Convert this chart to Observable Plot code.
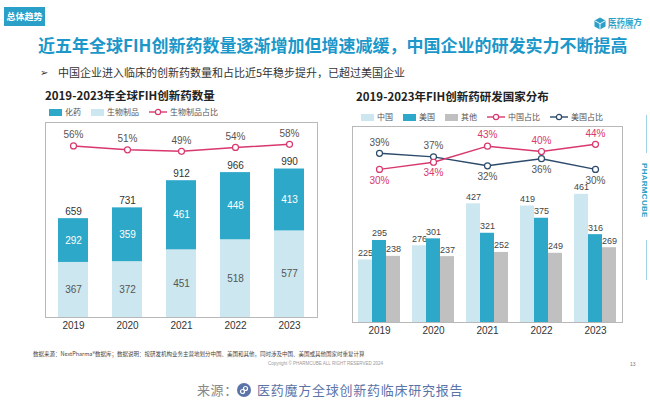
<!DOCTYPE html>
<html><head><meta charset="utf-8">
<script src="https://cdn.jsdelivr.net/npm/d3@7"></script>
<script src="https://cdn.jsdelivr.net/npm/@observablehq/plot@0.6"></script>
<style>
body{margin:0;background:#fff;}
#page{position:relative;width:650px;height:406px;overflow:hidden;background:#fff;font-family:"Liberation Sans","Noto Sans CJK SC",sans-serif;}
.abs{position:absolute;white-space:nowrap;line-height:1;}
.cjk{font-family:"Noto Sans CJK SC","Liberation Sans",sans-serif;}
.legend{position:absolute;display:flex;align-items:center;font-size:8px;color:#555;white-space:nowrap;line-height:1;font-family:"Noto Sans CJK SC",sans-serif;z-index:3;}
.legend .item{display:flex;align-items:center;margin-right:10px;}
.legend svg{margin-right:3px;display:block;}
.chart{position:absolute;}
</style></head>
<body><div id="page">
  <div class="abs cjk" style="left:4px;top:7px;width:41px;height:19px;background:#2a9fc7;color:#fff;font-size:9px;font-weight:700;display:flex;align-items:center;justify-content:center;">总体趋势</div>
  <svg class="abs" style="left:594px;top:17px" width="12" height="13" viewBox="0 0 13 14">
    <path d="M6.5 0.5 L12.5 3.8 L12.5 10.2 L6.5 13.5 L0.5 10.2 L0.5 3.8 Z" fill="#2a9fc7"/>
    <path d="M0.8 4 L6.5 7.2 L12.2 4 M6.5 7.2 L6.5 13.2" stroke="#fff" stroke-width="1" fill="none"/>
  </svg>
  <div class="abs cjk" style="left:608px;top:17px;font-size:8.5px;font-weight:700;color:#2a9fc7;">医药魔方</div>
  <div class="abs" style="left:608px;top:27px;font-size:3px;letter-spacing:1px;color:#2a9fc7;font-weight:700;">PHARMCUBE</div>
  <div class="abs cjk" style="left:38px;top:36px;font-size:17px;font-weight:700;color:#1b97c9;">近五年全球FIH创新药数量逐渐增加但增速减缓，中国企业的研发实力不断提高</div>
  <div class="abs" style="left:40px;top:68px;font-size:10px;color:#333;">➢</div>
  <div class="abs cjk" style="left:58px;top:67px;font-size:11px;color:#333;">中国企业进入临床的创新药数量和占比近5年稳步提升，已超过美国企业</div>
  <div class="abs cjk" style="left:45px;top:90px;font-size:11.5px;font-weight:700;color:#222;">2019-2023年全球FIH创新药数量</div>
  <div class="abs cjk" style="left:356px;top:91px;font-size:11.5px;font-weight:700;color:#222;">2019-2023年FIH创新药研发国家分布</div>
  <div id="legL" class="legend" style="left:49px;top:108px;"></div>
  <div id="legR" class="legend" style="left:361px;top:113px;"></div>
  <div id="chartL" class="chart" style="left:20px;top:110px;"></div>
  <div id="chartR" class="chart" style="left:330px;top:110px;"></div>
  <div class="abs" style="left:646px;top:115px;width:1px;height:38px;background:#9fd3e6;"></div>
  <div class="abs" style="left:640px;top:163px;font-size:8px;font-weight:700;color:#2a9fc7;writing-mode:vertical-rl;letter-spacing:0.3px;">PHARMCUBE</div>
  <div class="abs" style="left:646px;top:240px;width:1px;height:40px;background:#9fd3e6;"></div>
  <div class="abs cjk" style="left:33px;top:352px;font-size:5.5px;color:#444;">数据来源：NextPharma®数据库；数据说明：按研发机构业务主营地划分中国、美国和其他，同时涉及中国、美国或其他国家时重复计算</div>
  <div class="abs" style="left:268px;top:362px;font-size:4.5px;color:#999;">Copyright © PHARMCUBE ALL RIGHT RESERVED 2024</div>
  <div class="abs" style="left:630px;top:362px;font-size:5px;color:#777;">13</div>
  <div class="abs cjk" style="left:197px;top:383px;font-size:13px;color:#888;letter-spacing:0.6px;">来源：</div>
  <svg class="abs" style="left:237px;top:383px" width="14" height="14" viewBox="0 0 14 14">
    <circle cx="7" cy="7" r="7" fill="#5b74a8"/>
    <circle cx="5.5" cy="8.5" r="2" fill="none" stroke="#fff" stroke-width="1.2"/>
    <circle cx="8.5" cy="5.5" r="2" fill="none" stroke="#fff" stroke-width="1.2"/>
  </svg>
  <div class="abs cjk" style="left:257px;top:383px;font-size:13px;color:#5b74a8;letter-spacing:0.75px;">医药魔方全球创新药临床研究报告</div>
</div>
<script>
// ---------- data ----------
const years = ["2019", "2020", "2021", "2022", "2023"];
// left chart
const leftSeries = ["化药", "生物制品", "生物制品占比"];
const chemCounts = [292, 359, 461, 448, 413];
const bioCounts = [367, 372, 451, 518, 577];
const totalCounts = [659, 731, 912, 966, 990];
const bioShare = [56, 51, 49, 54, 58];
// right chart
const countries = ["中国", "美国", "其他"];
const chinaCounts = [225, 276, 427, 419, 461];
const usCounts = [295, 301, 321, 375, 316];
const otherCounts = [238, 237, 252, 249, 269];
const shareSeries = ["中国占比", "美国占比"];
const chinaShare = [30, 34, 43, 40, 44];
const usShare = [39, 37, 32, 36, 30];

// ---------- styles ----------
const DARK = "#2ea8c9", LIGHT = "#cce7f0", GRAY = "#c0c0c0", PINK = "#d8386e", NAVY = "#2c4a6a";
const FONT = '"Liberation Sans","Noto Sans CJK SC",sans-serif';

// ---------- legends ----------
function swatchRect(c) { return `<svg width="13" height="7"><rect width="13" height="7" fill="${c}"/></svg>`; }
function swatchLine(c) { return `<svg width="18" height="8"><line x1="0" x2="18" y1="4" y2="4" stroke="${c}" stroke-width="1.4"/><circle cx="9" cy="4" r="2.6" fill="#fff" stroke="${c}" stroke-width="1.2"/></svg>`; }
document.getElementById("legL").innerHTML =
  [[leftSeries[0], swatchRect(DARK)], [leftSeries[1], swatchRect(LIGHT)], [leftSeries[2], swatchLine(PINK)]]
  .map(([t, s]) => `<div class="item">${s}<span>${t}</span></div>`).join("");
document.getElementById("legR").innerHTML =
  [[countries[0], swatchRect(LIGHT)], [countries[1], swatchRect(DARK)], [countries[2], swatchRect(GRAY)],
   [shareSeries[0], swatchLine(PINK)], [shareSeries[1], swatchLine(NAVY)]]
  .map(([t, s]) => `<div class="item">${s}<span>${t}</span></div>`).join("");

// ---------- left chart ----------
const leftRows = years.flatMap((year, i) => [
  {year, type: leftSeries[1], lo: 0, hi: bioCounts[i], value: bioCounts[i]},
  {year, type: leftSeries[0], lo: bioCounts[i], hi: bioCounts[i] + chemCounts[i], value: chemCounts[i]}
]);
const leftTop = years.map((year, i) => ({year, total: totalCounts[i], share: bioShare[i]}));
const leftShareScale = d3.scaleLinear().domain([-164, 86]).range([0, 1300]); // secondary axis (percent)

const chartL = Plot.plot({
  width: 310, height: 230, marginLeft: 25, marginRight: 13, marginTop: 12, marginBottom: 23,
  style: {fontFamily: FONT, fontSize: "10px", color: "#333", background: "transparent", overflow: "visible"},
  x: {domain: years, padding: 0, label: null},
  y: {domain: [0, 1300], axis: null},
  color: {domain: [leftSeries[0], leftSeries[1]], range: [DARK, LIGHT]},
  marks: [
    Plot.frame({stroke: "#b8b8b8"}),
    Plot.barY(leftRows, {x: "year", y1: "lo", y2: "hi", fill: "type", insetLeft: 12, insetRight: 12}),
    Plot.text(leftRows, {filter: d => d.type === leftSeries[0], x: "year", y: d => (d.lo + d.hi) / 2, text: "value", fill: "#fff", fontSize: 10}),
    Plot.text(leftRows, {filter: d => d.type === leftSeries[1], x: "year", y: d => (d.lo + d.hi) / 2, text: "value", fill: "#555", fontSize: 10}),
    Plot.text(leftTop, {x: "year", y: "total", text: "total", dy: -7, fill: "#333", fontSize: 10}),
    Plot.line(leftTop, {x: "year", y: d => leftShareScale(d.share), stroke: PINK, strokeWidth: 1.5}),
    Plot.dot(leftTop, {x: "year", y: d => leftShareScale(d.share), r: 3, fill: "#fff", stroke: PINK, strokeWidth: 1.2}),
    Plot.text(leftTop, {x: "year", y: d => leftShareScale(d.share), text: d => d.share + "%", dy: -11, fill: "#555", fontSize: 10}),
    Plot.axisX({tickSize: 0, tickPadding: 4, fontSize: 10, fill: "#333", label: null})
  ]
});
document.getElementById("chartL").append(chartL);

// ---------- right chart ----------
const countryCounts = [chinaCounts, usCounts, otherCounts];
const countryColors = [LIGHT, DARK, GRAY];
const rightRows = years.flatMap((year, i) => countries.map((c, j) => ({year, country: c, j, value: countryCounts[j][i]})));
const rightShares = years.map((year, i) => ({year, cn: chinaShare[i], us: usShare[i]}));
const rightShareScale = d3.scaleLinear().domain([-55.7, 54]).range([0, 705]); // secondary axis (percent)

const BAR_W = 14;
const rightMarks = [Plot.frame({stroke: "#b8b8b8"})];
countries.forEach((c, j) => {
  rightMarks.push(
    Plot.barY(rightRows, {filter: d => d.j === j, x: "year", y: "value", fill: "country", insetLeft: 20, insetRight: 20, dx: (j - 1) * BAR_W}),
    Plot.text(rightRows, {filter: d => d.j === j, x: "year", y: "value", text: "value", dx: (j - 1) * BAR_W, dy: -7, fill: "#444", fontSize: 9})
  );
});
rightMarks.push(
  Plot.line(rightShares, {x: "year", y: d => rightShareScale(d.us), stroke: NAVY, strokeWidth: 1.5}),
  Plot.line(rightShares, {x: "year", y: d => rightShareScale(d.cn), stroke: PINK, strokeWidth: 1.5}),
  Plot.dot(rightShares, {x: "year", y: d => rightShareScale(d.us), r: 3, fill: "#fff", stroke: NAVY, strokeWidth: 1.2}),
  Plot.dot(rightShares, {x: "year", y: d => rightShareScale(d.cn), r: 3, fill: "#fff", stroke: PINK, strokeWidth: 1.2}),
  Plot.text(rightShares.filter(d => d.cn > d.us), {x: "year", y: d => rightShareScale(d.cn), text: d => d.cn + "%", dy: -11, fill: PINK, fontSize: 10}),
  Plot.text(rightShares.filter(d => d.cn <= d.us), {x: "year", y: d => rightShareScale(d.cn), text: d => d.cn + "%", dy: 11, fill: PINK, fontSize: 10}),
  Plot.text(rightShares.filter(d => d.us >= d.cn), {x: "year", y: d => rightShareScale(d.us), text: d => d.us + "%", dy: -11, fill: "#555", fontSize: 10}),
  Plot.text(rightShares.filter(d => d.us < d.cn), {x: "year", y: d => rightShareScale(d.us), text: d => d.us + "%", dy: 11, fill: "#555", fontSize: 10}),
  Plot.axisX({tickSize: 0, tickPadding: 4, fontSize: 10, fill: "#333", label: null})
);
const chartR = Plot.plot({
  width: 310, height: 230, marginLeft: 22, marginRight: 18, marginTop: 16, marginBottom: 18,
  style: {fontFamily: FONT, fontSize: "10px", color: "#333", background: "transparent", overflow: "visible"},
  x: {domain: years, padding: 0, label: null},
  y: {domain: [0, 705], axis: null},
  color: {domain: countries, range: countryColors},
  marks: rightMarks
});
document.getElementById("chartR").append(chartR);
</script>
</body></html>
